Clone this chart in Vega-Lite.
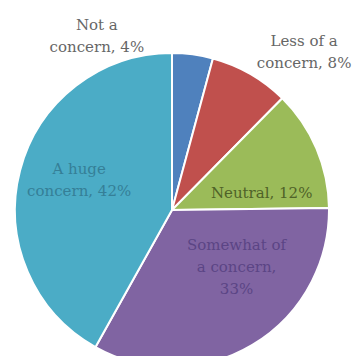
{
  "$schema": "https://vega.github.io/schema/vega-lite/v6.json",
  "width": 314,
  "height": 314,
  "autosize": "none",
  "padding": {"left": 15, "top": 53, "right": 26, "bottom": 0},
  "background": "white",
  "view": {"stroke": null},
  "data": {
    "values": [
      {"category": "Not a concern", "value": 4.2, "order": 1, "label": "Not a\nconcern, 4%"},
      {"category": "Less of a concern", "value": 8.2, "order": 2, "label": "Less of a\nconcern, 8%"},
      {"category": "Neutral", "value": 12.4, "order": 3, "label": "Neutral, 12%"},
      {"category": "Somewhat of a concern", "value": 33.3, "order": 4, "label": "Somewhat of\na concern,\n33%"},
      {"category": "A huge concern", "value": 41.9, "order": 5, "label": "A huge\nconcern, 42%"}
    ]
  },
  "encoding": {
    "theta": {"field": "value", "type": "quantitative", "stack": true},
    "order": {"field": "order", "type": "quantitative", "sort": "ascending"}
  },
  "layer": [
    {
      "mark": {"type": "arc", "stroke": "white", "strokeWidth": 2},
      "encoding": {
        "color": {
          "field": "category",
          "type": "nominal",
          "legend": null,
          "scale": {
            "domain": ["Not a concern", "Less of a concern", "Neutral", "Somewhat of a concern", "A huge concern"],
            "range": ["#4F81BD", "#C0504D", "#9BBB59", "#8064A2", "#4BACC6"]
          }
        }
      }
    },
    {
      "mark": {"type": "text", "radius": 98, "dx": 2, "dy": -16, "font": "DejaVu Serif", "fontSize": 15, "lineBreak": "\n", "lineHeight": 22, "color": "#357f97", "align": "center", "baseline": "middle"},
      "encoding": {"text": {"condition": {"test": "datum.category === 'A huge concern'", "field": "label"}, "value": ""}}
    },
    {
      "mark": {"type": "text", "radius": 92, "dx": 5, "dy": 19, "font": "DejaVu Serif", "fontSize": 15, "lineBreak": "\n", "lineHeight": 22, "color": "#4f6228", "align": "center", "baseline": "middle"},
      "encoding": {"text": {"condition": {"test": "datum.category === 'Neutral'", "field": "label"}, "value": ""}}
    },
    {
      "mark": {"type": "text", "radius": 87, "dx": 20, "dy": -40, "font": "DejaVu Serif", "fontSize": 15, "lineBreak": "\n", "lineHeight": 22, "color": "#5b4585", "align": "center", "baseline": "middle"},
      "encoding": {"text": {"condition": {"test": "datum.category === 'Somewhat of a concern'", "field": "label"}, "value": ""}}
    },
    {
      "mark": {"type": "text", "radius": 189, "dx": -100, "dy": 2, "font": "DejaVu Serif", "fontSize": 15, "lineBreak": "\n", "lineHeight": 22, "color": "#666666", "align": "center", "baseline": "middle"},
      "encoding": {"text": {"condition": {"test": "datum.category === 'Not a concern'", "field": "label"}, "value": ""}}
    },
    {
      "mark": {"type": "text", "radius": 207, "dx": 29, "dy": 10, "font": "DejaVu Serif", "fontSize": 15, "lineBreak": "\n", "lineHeight": 22, "color": "#666666", "align": "center", "baseline": "middle"},
      "encoding": {"text": {"condition": {"test": "datum.category === 'Less of a concern'", "field": "label"}, "value": ""}}
    }
  ]
}
